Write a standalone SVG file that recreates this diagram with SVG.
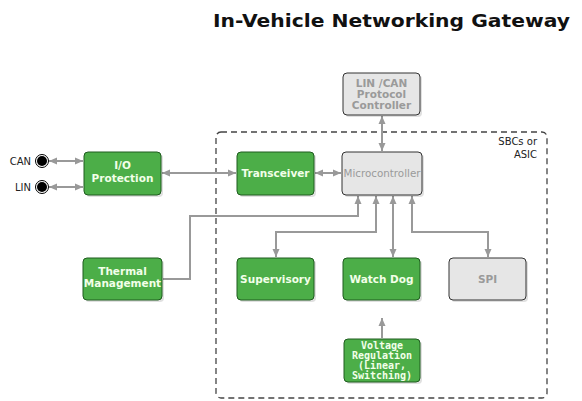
<svg xmlns="http://www.w3.org/2000/svg" width="582" height="401" viewBox="0 0 582 401">
<style>
.g rect.b{fill:#4cae48;stroke:#1f5c1f;stroke-width:1}
.y rect.b{fill:#e6e6e6;stroke:#333;stroke-width:1}
.sh{fill:#000;opacity:0.12}
.gt{font-family:"DejaVu Sans",Verdana,sans-serif;font-weight:bold;font-size:10.5px;fill:#f2ffe8;text-anchor:middle}
.yt{font-family:"DejaVu Sans",Verdana,sans-serif;font-weight:bold;font-size:10.5px;fill:#9a9a9a;text-anchor:middle}
.mt{font-family:"DejaVu Sans Mono",monospace;font-weight:bold;font-size:10px;fill:#f2ffe8;text-anchor:middle}
.lbl{font-family:"DejaVu Sans",Verdana,sans-serif;font-size:10px;fill:#222}
.c{fill:none;stroke:#999;stroke-width:2}
</style>
<defs>
<marker id="a" markerUnits="userSpaceOnUse" markerWidth="8" markerHeight="8" refX="8" refY="4" orient="auto-start-reverse">
<path d="M0,0.5 L8,4 L0,7.5 z" fill="#999"/>
</marker>
</defs>
<text x="213" y="27" font-family="'DejaVu Sans',Verdana,sans-serif" font-weight="bold" font-size="17" fill="#111" textLength="357" lengthAdjust="spacingAndGlyphs">In-Vehicle Networking Gateway</text>
<g id="sbc">
<rect x="216" y="132" width="331" height="266" rx="5" fill="none" stroke="#444" stroke-width="1.3" stroke-dasharray="6,4"/>
<text class="lbl" x="537" y="145" text-anchor="end">SBCs or</text>
<text class="lbl" x="537" y="158" text-anchor="end">ASIC</text>
</g>
<g id="connectors">
<path class="c" d="M49,161 H83" marker-start="url(#a)" marker-end="url(#a)"/>
<path class="c" d="M49,187 H83" marker-start="url(#a)" marker-end="url(#a)"/>
<path class="c" d="M162,173 H236" marker-start="url(#a)" marker-end="url(#a)"/>
<path class="c" d="M315,173 H341" marker-start="url(#a)" marker-end="url(#a)"/>
<path class="c" d="M382,116 V151" marker-start="url(#a)" marker-end="url(#a)"/>
<path class="c" d="M163,279 H190 V216 H358 V196" marker-end="url(#a)"/>
<path class="c" d="M276,257 V232 H376 V196" marker-start="url(#a)" marker-end="url(#a)"/>
<path class="c" d="M393,196 V257" marker-start="url(#a)" marker-end="url(#a)"/>
<path class="c" d="M488,257 V232 H412 V196" marker-start="url(#a)" marker-end="url(#a)"/>
<path class="c" d="M382,338 V318" marker-end="url(#a)"/>
</g>
<g id="can">
<circle cx="42" cy="161" r="6.5" fill="#fff" stroke="#000" stroke-width="1"/>
<circle cx="42" cy="161" r="5" fill="#000"/>
<text class="lbl" x="31" y="165" text-anchor="end" font-size="11">CAN</text>
</g>
<g id="lin">
<circle cx="42" cy="187" r="6.5" fill="#fff" stroke="#000" stroke-width="1"/>
<circle cx="42" cy="187" r="5" fill="#000"/>
<text class="lbl" x="31" y="191" text-anchor="end" font-size="11">LIN</text>
</g>
<g id="io" class="g">
<rect class="sh" x="86" y="154" width="77" height="43" rx="4"/>
<rect class="b" x="84" y="152" width="77" height="43" rx="4"/>
<text class="gt" x="122.5" y="169">I/O</text>
<text class="gt" x="122.5" y="182">Protection</text>
</g>
<g id="transceiver" class="g">
<rect class="sh" x="239" y="154" width="77" height="43" rx="4"/>
<rect class="b" x="237" y="152" width="77" height="43" rx="4"/>
<text class="gt" x="275.5" y="177">Transceiver</text>
</g>
<g id="protocol" class="y">
<rect class="sh" x="345" y="75" width="77" height="42" rx="4"/>
<rect class="b" x="343" y="73" width="77" height="42" rx="4"/>
<text class="yt" x="381.5" y="87">LIN /CAN</text>
<text class="yt" x="381.5" y="97.5">Protocol</text>
<text class="yt" x="381.5" y="109">Controller</text>
</g>
<g id="mcu" class="y">
<rect class="sh" x="344" y="154" width="80" height="43" rx="4"/>
<rect class="b" x="342" y="152" width="80" height="43" rx="4"/>
<text x="382" y="177" font-family="'DejaVu Sans',Verdana,sans-serif" font-size="10" fill="#9a9a9a" text-anchor="middle" textLength="77" lengthAdjust="spacingAndGlyphs">Microcontroller</text>
</g>
<g id="thermal" class="g">
<rect class="sh" x="85" y="260" width="79" height="42" rx="4"/>
<rect class="b" x="83" y="258" width="79" height="42" rx="4"/>
<text class="gt" x="122.5" y="275">Thermal</text>
<text class="gt" x="122.5" y="287">Management</text>
</g>
<g id="supervisory" class="g">
<rect class="sh" x="239" y="260" width="77" height="42" rx="4"/>
<rect class="b" x="237" y="258" width="77" height="42" rx="4"/>
<text class="gt" x="275.5" y="283">Supervisory</text>
</g>
<g id="watchdog" class="g">
<rect class="sh" x="345" y="260" width="77" height="42" rx="4"/>
<rect class="b" x="343" y="258" width="77" height="42" rx="4"/>
<text class="gt" x="381.5" y="283">Watch Dog</text>
</g>
<g id="spi" class="y">
<rect class="sh" x="451" y="260" width="77" height="42" rx="4"/>
<rect class="b" x="449" y="258" width="77" height="42" rx="4"/>
<text class="yt" x="487.5" y="283">SPI</text>
</g>
<g id="voltage" class="g">
<rect class="sh" x="346" y="341" width="76" height="43" rx="4"/>
<rect class="b" x="344" y="339" width="76" height="43" rx="4"/>
<text class="mt" x="382" y="349">Voltage</text>
<text class="mt" x="382" y="359">Regulation</text>
<text class="mt" x="382" y="369">(Linear,</text>
<text class="mt" x="382" y="379">Switching)</text>
</g>
</svg>
